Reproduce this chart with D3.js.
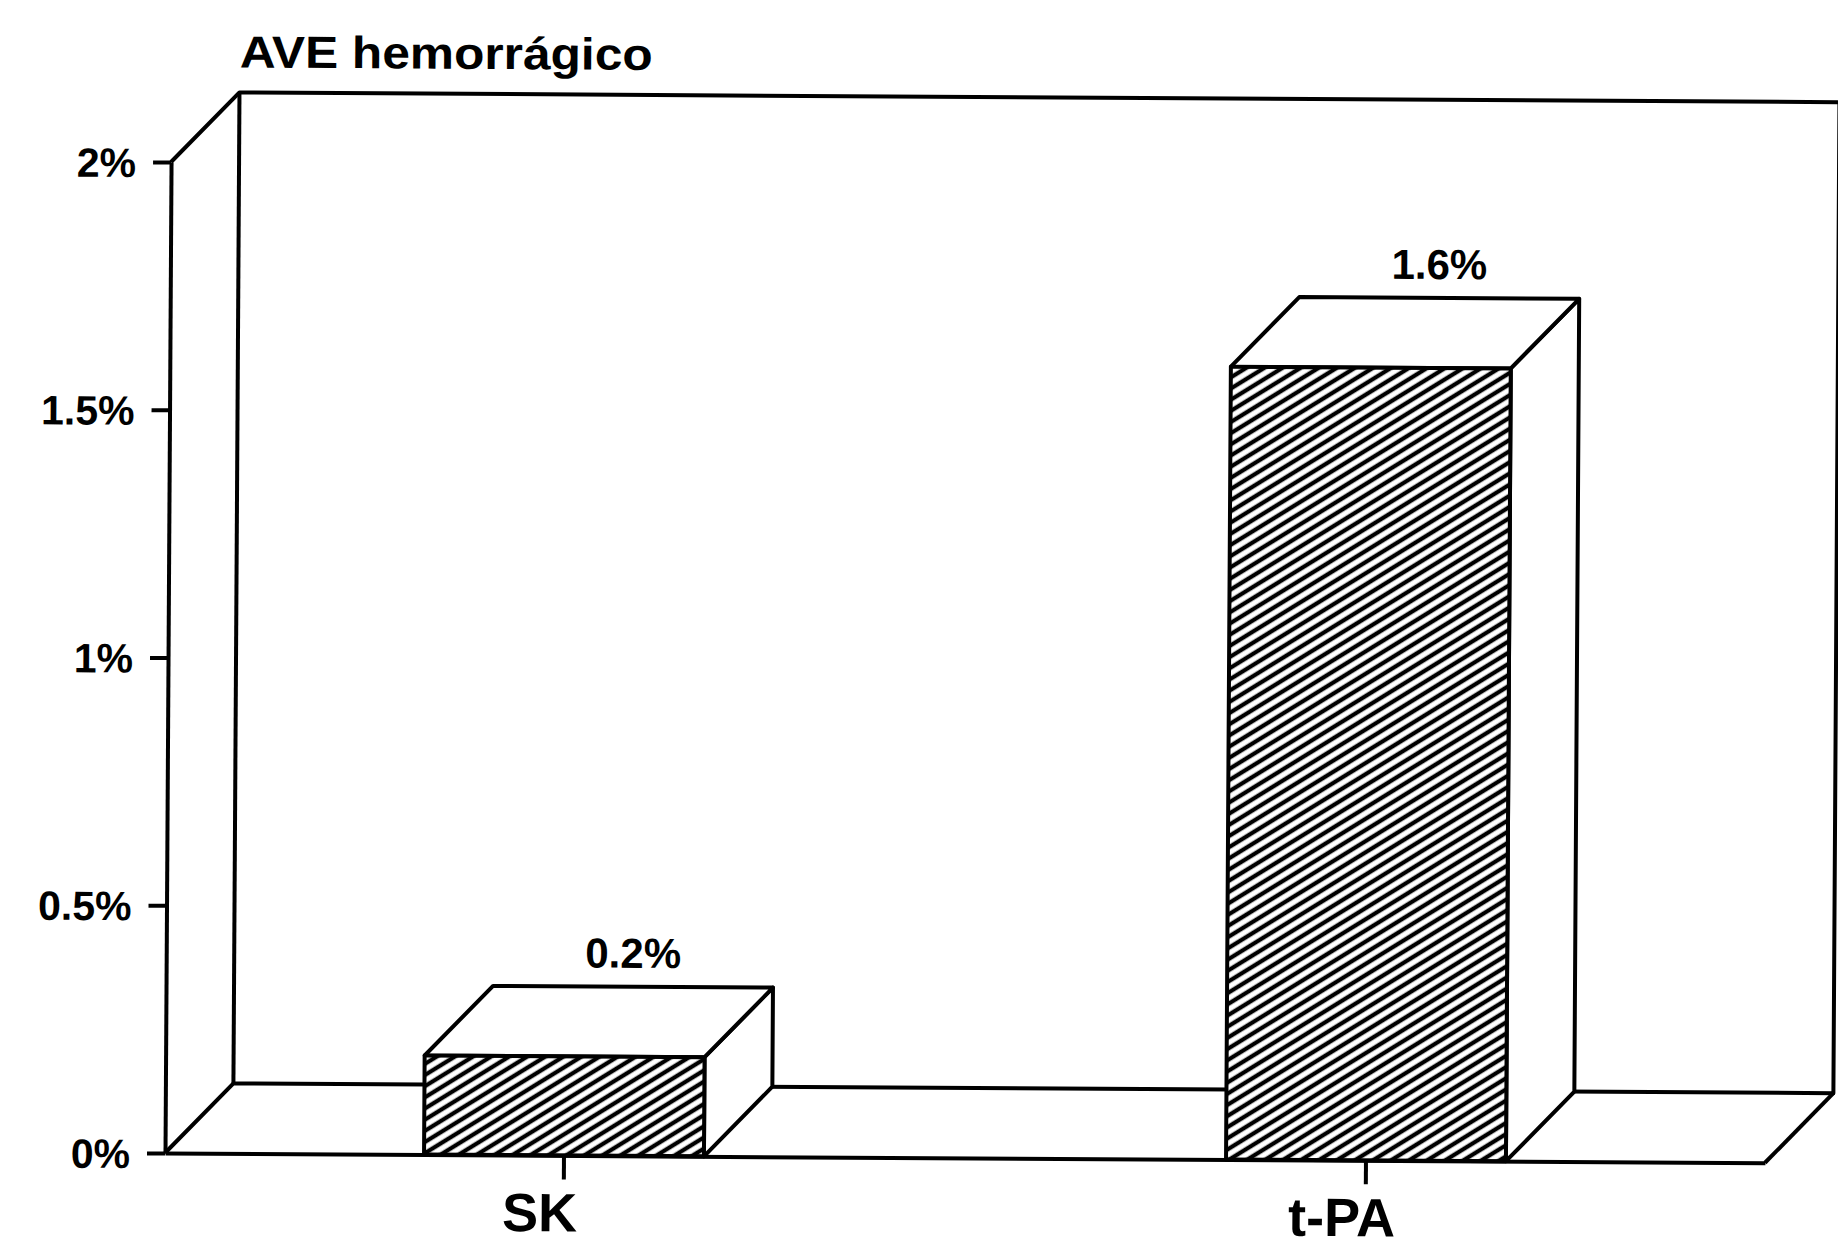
<!DOCTYPE html>
<html>
<head>
<meta charset="utf-8">
<script src="https://cdn.jsdelivr.net/npm/d3@7"></script>
<style>
  body { margin: 0; background: #fff; }
  text { font-family: "Liberation Sans", Arial, sans-serif; font-weight: bold; fill: #000; }
</style>
</head>
<body>
<div id="chart"></div>
<script>
// data
const categories = ["SK", "t-PA"];
const values = [0.2, 1.6];
const valueLabels = ["0.2%", "1.6%"];
const yTicks = [0, 0.5, 1, 1.5, 2];
const yTickLabels = ["0%", "0.5%", "1%", "1.5%", "2%"];
const yTitle = "AVE hemorrágico";

const w = 1838;
const h = 1249;
const dx = 68;   // depth of the 3D box
const dy = 70;
const lw = 4;

let svg = d3.select("#chart")
            .append("svg")
            .attr("width", w)
            .attr("height", h)
            .style("background", "#fff");

// hatch for the front faces
let pat = svg.append("defs").append("pattern")
    .attr("id", "hatch")
    .attr("patternUnits", "userSpaceOnUse")
    .attr("width", 10)
    .attr("height", 9.5)
    .attr("patternTransform", "rotate(-32)");
pat.append("rect").attr("width", 10).attr("height", 9.5).attr("fill", "#fff");
pat.append("line")
    .attr("x1", 0).attr("x2", 10)
    .attr("y1", 4.75).attr("y2", 4.75)
    .attr("stroke", "#000")
    .attr("stroke-width", 4.3);

// scales
let x = d3.scaleBand()
    .domain(categories)
    .range([165, 1765])
    .paddingInner(0.651)
    .paddingOuter(0.323);

let y = d3.scaleLinear()
    .domain([0, 2])
    .range([1153, 162]);

const x0 = x.range()[0], x1 = x.range()[1];
const yb = y(0), yt = y(2);

// the scan is slightly tilted
let g = svg.append("g").attr("transform", "rotate(0.35," + x0 + "," + yb + ")");

let line = (pts) => "M" + pts.map(p => p.join(",")).join("L");

// back wall + floor
let walls = [
    [[x0, yt], [x0 + dx, yt - dy], [w + 20, yt - dy]],
    [[x0 + dx, yt - dy], [x0 + dx, yb - dy]],
    [[x0, yb], [x0 + dx, yb - dy], [x1 + dx, yb - dy], [x1 + dx, yt - dy]],
    [[x1, yb], [x1 + dx, yb - dy]]
];
g.selectAll("path.wall")
    .data(walls)
    .enter()
    .append("path")
    .attr("class", "wall")
    .attr("d", line)
    .attr("fill", "none")
    .attr("stroke", "#000")
    .attr("stroke-width", lw)
    .attr("stroke-linejoin", "round");

// bars
let bars = g.selectAll("g.bar")
    .data(categories.map((c, i) => ({ cat: c, v: values[i], label: valueLabels[i] })))
    .enter()
    .append("g")
    .attr("class", "bar");

bars.append("path")  // right side
    .attr("d", d => {
        let l = x(d.cat) + x.bandwidth(), t = y(d.v);
        return line([[l, t], [l + dx, t - dy], [l + dx, yb - dy], [l, yb]]) + "Z";
    });
bars.append("path")  // top
    .attr("d", d => {
        let l = x(d.cat), r = l + x.bandwidth(), t = y(d.v);
        return line([[l, t], [l + dx, t - dy], [r + dx, t - dy], [r, t]]) + "Z";
    });
bars.append("rect")  // front
    .attr("x", d => x(d.cat))
    .attr("y", d => y(d.v))
    .attr("width", x.bandwidth())
    .attr("height", d => yb - y(d.v))
    .attr("fill", "url(#hatch)");
bars.selectAll("path, rect")
    .attr("stroke", "#000")
    .attr("stroke-width", lw)
    .attr("stroke-linejoin", "round");
bars.selectAll("path").attr("fill", "#fff");

bars.append("text")
    .attr("x", d => x(d.cat) + x.bandwidth() / 2 + dx)
    .attr("y", d => y(d.v) - dy - 19)
    .attr("text-anchor", "middle")
    .attr("font-size", 42)
    .text(d => d.label);

// axes
let yAxis = g.append("g")
    .attr("transform", "translate(" + x0 + ",0)")
    .call(d3.axisLeft(y)
        .tickValues(yTicks)
        .tickFormat((d, i) => yTickLabels[i])
        .tickSize(18)
        .tickSizeOuter(0)
        .tickPadding(17));

let xAxis = g.append("g")
    .attr("transform", "translate(0," + yb + ")")
    .call(d3.axisBottom(x).tickSize(24).tickSizeOuter(0));

[yAxis, xAxis].forEach(a => {
    a.selectAll("path, line").attr("stroke", "#000").attr("stroke-width", lw);
    a.selectAll("text").attr("fill", "#000").style("font-family", null);
});
yAxis.selectAll("text").attr("font-size", 41).attr("dy", "0.36em");
xAxis.selectAll("text")
    .attr("font-size", 54)
    .attr("y", 76)
    .attr("dy", 0)
    .attr("dx", -24);

// title
g.append("text")
    .attr("x", x0 + dx)
    .attr("y", 67)
    .attr("font-size", 45)
    .attr("textLength", 413)
    .attr("lengthAdjust", "spacingAndGlyphs")
    .text(yTitle);
</script>
</body>
</html>
